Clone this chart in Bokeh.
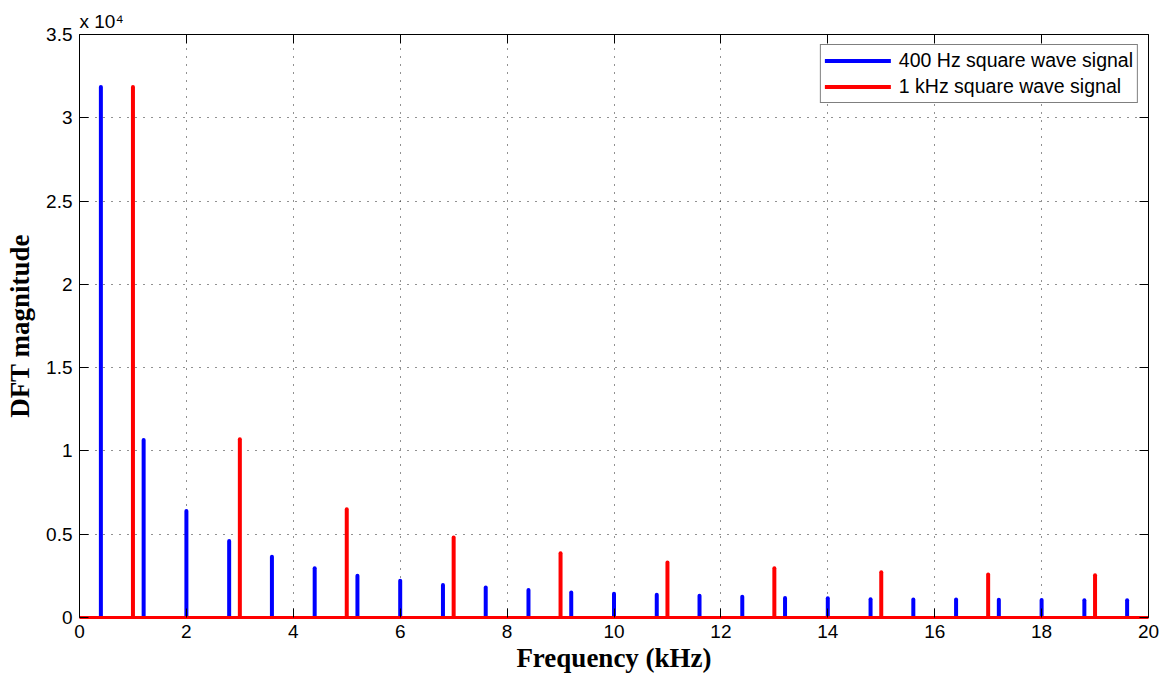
from bokeh.plotting import figure
from bokeh.models import (LinearAxis, FixedTicker, CustomJSTickFormatter,
                          Legend, LegendItem, Range1d, ColumnDataSource)
from bokeh.embed import file_html
from bokeh.resources import INLINE

# ---- data ----
freq_400 = [0.4, 1.2, 2.0, 2.8, 3.6, 4.4, 5.2, 6.0, 6.8, 7.6, 8.4, 9.2, 10.0,
            10.8, 11.6, 12.4, 13.2, 14.0, 14.8, 15.6, 16.4, 17.2, 18.0, 18.8, 19.6]
mag_400 = [31850, 10650, 6400, 4600, 3650, 2950, 2500, 2200, 1950, 1800, 1650,
           1500, 1420, 1370, 1300, 1240, 1170, 1150, 1100, 1080, 1080, 1060,
           1050, 1030, 1030]
freq_1k = [1, 3, 5, 7, 9, 11, 13, 15, 17, 19]
mag_1k = [31850, 10700, 6500, 4800, 3850, 3300, 2950, 2720, 2580, 2530]

x_ticks = [0, 2, 4, 6, 8, 10, 12, 14, 16, 18, 20]
y_ticks = [0, 5000, 10000, 15000, 20000, 25000, 30000, 35000]

label_400 = "400 Hz square wave signal"
label_1k = "1 kHz square wave signal"
exponent_text = "x 10\u2074"

TICK_FONT = "Liberation Sans"
TITLE_FONT = "Liberation Serif"

p = figure(width=1170, height=679, output_backend="svg", toolbar_location=None,
           x_range=Range1d(0, 20), y_range=Range1d(0, 35000),
           min_border_left=79, min_border_right=22, min_border_top=34,
           min_border_bottom=62, title=exponent_text)
p.background_fill_color = "white"
p.border_fill_color = "white"
p.outline_line_color = None

p.title.text_font = TICK_FONT
p.title.text_font_size = "19px"
p.title.text_font_style = "normal"
p.title.text_color = "black"
p.title.align = "left"
p.title.offset = 0
p.title.standoff = 6

# stems
src_400 = ColumnDataSource(dict(f=freq_400, m=mag_400))
src_1k = ColumnDataSource(dict(f=freq_1k, m=mag_1k))
r400 = p.segment(x0="f", y0=0, x1="f", y1="m", source=src_400,
                 line_color="#0000ff", line_width=4, line_cap="round")
r1k = p.segment(x0="f", y0=0, x1="f", y1="m", source=src_1k,
                line_color="#ff0000", line_width=4, line_cap="round")

# axes
xa = p.xaxis[0]
ya = p.yaxis[0]
xa.ticker = FixedTicker(ticks=x_ticks)
ya.ticker = FixedTicker(ticks=y_ticks)
ya.formatter = CustomJSTickFormatter(code="return (tick/10000).toString();")
for ax in (xa, ya):
    ax.major_tick_in = 9
    ax.major_tick_out = 0
    ax.minor_tick_line_color = None
    ax.axis_line_color = "black"
    ax.major_tick_line_color = "black"
    ax.major_label_text_font = TICK_FONT
    ax.major_label_text_font_size = "19px"
    ax.major_label_text_color = "black"
    ax.axis_label_text_font = TITLE_FONT
    ax.axis_label_text_font_size = "27px"
    ax.axis_label_text_font_style = "bold"
    ax.axis_label_text_color = "black"
xa.axis_label = "Frequency (kHz)"
ya.axis_label = "DFT magnitude"
xa.major_label_standoff = 7
ya.major_label_standoff = 7
xa.axis_label_standoff = 2
ya.axis_label_standoff = 8
# stem baseline (red, drawn along y = 0)
xa.axis_line_color = "#ff0000"
xa.axis_line_width = 3

# box ticks on top and right
for loc, ticks in (("above", x_ticks), ("right", y_ticks)):
    ax2 = LinearAxis(ticker=FixedTicker(ticks=ticks),
                     formatter=CustomJSTickFormatter(code="return '';"),
                     major_tick_in=9, major_tick_out=0,
                     minor_tick_line_color=None, axis_line_color="black",
                     major_tick_line_color="black", major_label_standoff=0,
                     major_label_text_font_size="1px")
    p.add_layout(ax2, loc)

# grid
for g in (p.xgrid[0], p.ygrid[0]):
    g.grid_line_color = "#222222"
    g.grid_line_dash = "1 7"
    g.grid_line_width = 1
p.xgrid[0].ticker = FixedTicker(ticks=x_ticks)
p.ygrid[0].ticker = FixedTicker(ticks=y_ticks)

legend = Legend(items=[LegendItem(label=label_400, renderers=[r400]),
                       LegendItem(label=label_1k, renderers=[r1k])],
                location="top_right", margin=10, padding=4, spacing=3,
                glyph_width=66, glyph_height=15, label_height=15,
                label_standoff=8, border_line_color="black",
                border_line_width=1, background_fill_color="white",
                background_fill_alpha=1.0,
                label_text_font=TICK_FONT, label_text_font_size="19.5px",
                label_text_color="black")
p.add_layout(legend)

open("out.html", "w").write(file_html(p, INLINE))
